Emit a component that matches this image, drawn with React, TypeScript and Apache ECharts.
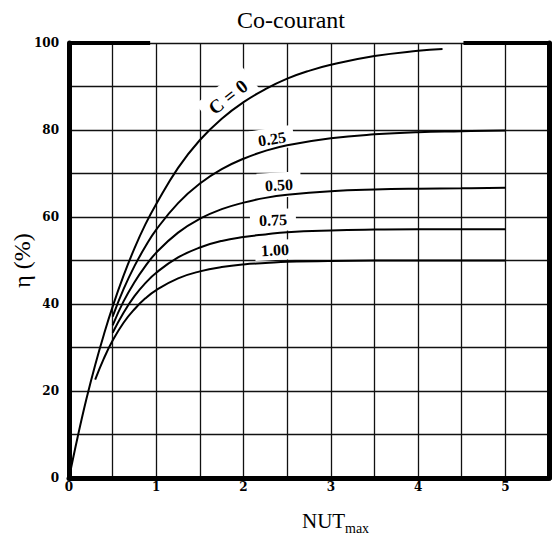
import React, { useEffect, useRef } from "react";
import * as echarts from "echarts";

// NUT_max values and efficiency (%)
const xC0 = [0, 0.1, 0.2, 0.3, 0.4, 0.5, 0.625, 0.75, 0.875, 1.0, 1.25, 1.5, 1.75, 2.0, 2.25, 2.5, 2.75, 3.0, 3.5, 4.0, 4.28];
const yC0 = [0, 9.5, 18.2, 26, 33, 39.4, 46.5, 52.8, 58.3, 63, 71.3, 77.7, 82.6, 86.4, 89.4, 91.8, 93.6, 95, 97, 98.2, 98.6];
const xC = [0.5, 0.625, 0.75, 0.875, 1.0, 1.25, 1.5, 1.75, 2.0, 2.25, 2.5, 3.0, 3.5, 4.0, 4.5, 5.0];
const yC025 = [37.1, 43.4, 48.7, 53.2, 57.1, 63.2, 67.7, 71.0, 73.4, 75.2, 76.5, 78.1, 79.0, 79.5, 79.7, 79.9];
const yC050 = [35.1, 40.6, 45.0, 48.7, 51.8, 56.4, 59.6, 61.8, 63.3, 64.4, 65.1, 65.9, 66.3, 66.5, 66.6, 66.7];
const yC075 = [33.4, 38.0, 41.8, 44.8, 47.2, 50.7, 53.0, 54.5, 55.4, 56.0, 56.5, 56.9, 57.1, 57.2, 57.2, 57.2];
const xC1 = [0.3, 0.4, 0.5, 0.625, 0.75, 0.875, 1.0, 1.25, 1.5, 1.75, 2.0, 2.25, 2.5, 3.0, 4.0, 5.0];
const yC100 = [22.6, 27.5, 31.6, 35.7, 38.8, 41.3, 43.2, 45.9, 47.5, 48.5, 49.1, 49.4, 49.7, 49.9, 50, 50];

const curveLabels = ["C = 0", "0.25", "0.50", "0.75", "1.00"];
const xTickLabels = ["0", "1", "2", "3", "4", "5"];
const yTickLabels = ["0", "20", "40", "60", "80", "100"];
const titleText = "Co-courant";
const yName = "η (%)";
const xNameMain = "NUT";
const xNameSub = "max";

const SERIF = "'Liberation Serif', 'Times New Roman', serif";
const TICK_FONT = "'DejaVu Serif', serif";

export default function App() {
  const ref = useRef<HTMLDivElement>(null);
  useEffect(() => {
    const chart = echarts.init(ref.current!, null, { renderer: "svg" });
    const mk = (name: string, xs: number[], ys: number[], extra: any = {}) => ({
      name,
      type: "line",
      data: xs.map((x, i) => [x, ys[i]]),
      smooth: 0.45,
      showSymbol: false,
      symbol: "none",
      silent: true,
      z: 3,
      lineStyle: { color: "#000", width: 2 },
      ...extra,
    });
    const labelPos = [
      { x: 228, y: 97, r: 38, pad: [5, 8, 5, 8], fs: 19 },
      { x: 272, y: 139, r: 9, pad: [5, 8, 1, 8], fs: 16 },
      { x: 279, y: 185, r: 3, pad: [7, 8, 2, 8], fs: 16 },
      { x: 273, y: 220, r: 2, pad: [4, 9, 2, 9], fs: 16 },
      { x: 275, y: 250, r: 3, pad: [3, 6, 1, 6], fs: 16 },
    ];
    const option: any = {
      animation: false,
      title: {
        text: titleText,
        left: 232,
        top: 3,
        textStyle: { fontFamily: SERIF, fontSize: 24, fontWeight: "normal", color: "#000" },
      },
      grid: { left: 69, right: 3, top: 43, bottom: 72, containLabel: false, outerBoundsMode: "none" },
      xAxis: [
        {
          type: "value",
          min: 0,
          max: 5.5,
          interval: 0.5,
          axisLine: { show: true, lineStyle: { color: "#000", width: 5 } },
          axisTick: { show: false },
          axisLabel: {
            margin: 3,
            fontFamily: TICK_FONT,
            fontWeight: "bold",
            fontSize: 12,
            color: "#000",
            formatter: (v: number) => {
              const s = String(v);
              return xTickLabels.includes(s) ? s : "";
            },
          },
          splitLine: { show: true, lineStyle: { color: "#111", width: 1.3 } },
        },
      ],
      yAxis: [
        {
          type: "value",
          min: 0,
          max: 100,
          interval: 10,
          name: yName,
          nameLocation: "middle",
          nameRotate: 90,
          nameGap: 35,
          nameMoveOverlap: false,
          nameTextStyle: { fontFamily: SERIF, fontSize: 24, color: "#000" },
          axisLine: { show: true, lineStyle: { color: "#000", width: 5 } },
          axisTick: { show: false },
          axisLabel: {
            margin: 10,
            fontFamily: TICK_FONT,
            fontWeight: "bold",
            fontSize: 12,
            color: "#000",
            formatter: (v: number) => {
              const s = String(v);
              return yTickLabels.includes(s) ? s : "";
            },
          },
          splitLine: { show: true, lineStyle: { color: "#111", width: 1.3 } },
        },
        {
          type: "value",
          position: "right",
          min: 0,
          max: 100,
          interval: 10,
          axisLine: { show: true, onZero: false, lineStyle: { color: "#000", width: 5 } },
          axisTick: { show: false },
          axisLabel: { show: false },
          splitLine: { show: false },
        },
      ],
      series: [
        mk("C = 0", xC0, yC0, {
          markLine: {
            silent: true,
            symbol: ["none", "none"],
            label: { show: false },
            lineStyle: { color: "#000", width: 4, type: "solid" },
            data: [
              [{ coord: [0, 100] }, { coord: [0.93, 100] }],
              [{ coord: [4.52, 100] }, { coord: [5.5, 100] }],
            ],
          },
        }),
        mk("0.25", xC, yC025),
        mk("0.50", xC, yC050),
        mk("0.75", xC, yC075),
        mk("1.00", xC1, yC100),
      ],
      graphic: [
        ...curveLabels.map((t, i) => ({
          type: "text",
          x: labelPos[i].x,
          y: labelPos[i].y,
          rotation: (labelPos[i].r * Math.PI) / 180,
          z: 1,
          silent: true,
          style: {
            text: t,
            fontFamily: SERIF,
            fontSize: labelPos[i].fs,
            fontWeight: "bold",
            fill: "#000",
            align: "center",
            verticalAlign: "middle",
            backgroundColor: "#fff",
            padding: labelPos[i].pad,
          },
        })),
        {
          type: "text",
          x: 302,
          y: 521,
          silent: true,
          style: { text: xNameMain, fontFamily: SERIF, fontSize: 21, fill: "#000", align: "left", verticalAlign: "middle" },
        },
        {
          type: "text",
          x: 345,
          y: 528,
          silent: true,
          style: { text: xNameSub, fontFamily: SERIF, fontSize: 14, fill: "#000", align: "left", verticalAlign: "middle" },
        },
      ],
    };
    chart.setOption(option);
    return () => chart.dispose();
  }, []);
  return (
    <div
      ref={ref}
      style={{ position: "absolute", left: 0, top: 0, width: 552, height: 550, background: "#fff" }}
    />
  );
}
